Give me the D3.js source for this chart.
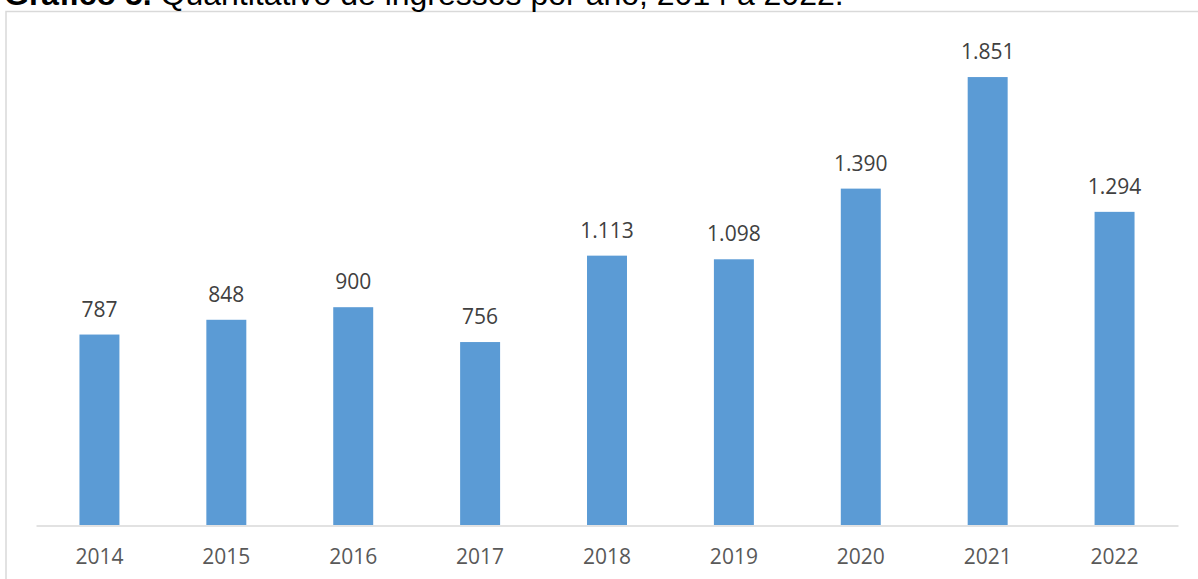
<!DOCTYPE html>
<html>
<head>
<meta charset="utf-8">
<script src="https://cdn.jsdelivr.net/npm/d3@7"></script>
<style>
  html, body { margin: 0; padding: 0; background: #fff; }
  svg { display: block; }
</style>
</head>
<body>
<svg id="chart" width="1198" height="579"></svg>
<script>
const years = ["2014", "2015", "2016", "2017", "2018", "2019", "2020", "2021", "2022"];
const ingressos = [787, 848, 900, 756, 1113, 1098, 1390, 1851, 1294];
const titleBold = "Gráfico 5.";
const titleRest = " Quantitativo de ingressos por ano, 2014 a 2022.";

const svg = d3.select("#chart");
const W = 1198, H = 579;

// chart border (cut by viewport)
svg.append("rect")
  .attr("x", 6).attr("y", 11.5)
  .attr("width", W + 10).attr("height", H + 10)
  .attr("fill", "#fff").attr("stroke", "#D9D9D9").attr("stroke-width", 1.5);

// title (cut at top, as in the reference)
const title = svg.append("text")
  .attr("x", 4).attr("y", 5)
  .attr("font-family", "Liberation Sans, Arial, sans-serif")
  .attr("font-size", 32).attr("fill", "#000");
title.append("tspan").attr("font-weight", "bold").text(titleBold);
title.append("tspan").text(titleRest);

const x = d3.scaleBand()
  .domain(years)
  .range([36, 1178])
  .paddingInner(0.685)
  .paddingOuter(0.3425);

const y = d3.scaleLinear()
  .domain([0, 2000])
  .range([525, 41]);

const fmt = d3.formatLocale({ decimal: ",", thousands: ".", grouping: [3], currency: ["R$", ""] }).format(",d");

const data = years.map((yr, i) => ({ year: yr, value: ingressos[i] }));

svg.append("g").selectAll("rect")
  .data(data)
  .join("rect")
  .attr("x", d => x(d.year))
  .attr("y", d => y(d.value))
  .attr("width", x.bandwidth())
  .attr("height", d => y(0) - y(d.value))
  .attr("fill", "#5B9BD5");

svg.append("g").selectAll("text")
  .data(data)
  .join("text")
  .attr("x", d => x(d.year) + x.bandwidth() / 2)
  .attr("y", d => y(d.value) - 18)
  .attr("text-anchor", "middle")
  .attr("font-family", "Open Sans, sans-serif")
  .attr("font-size", 21)
  .attr("fill", "#404040")
  .text(d => fmt(d.value));

const axis = svg.append("g")
  .attr("transform", `translate(0,${y(0) + 0.5})`)
  .call(d3.axisBottom(x).tickSize(0).tickPadding(24));
axis.select(".domain").attr("stroke", "#D9D9D9").attr("stroke-width", 1.5);
axis.selectAll("text")
  .attr("font-family", "Open Sans, sans-serif")
  .attr("font-size", 21)
  .attr("fill", "#595959");
</script>
</body>
</html>
